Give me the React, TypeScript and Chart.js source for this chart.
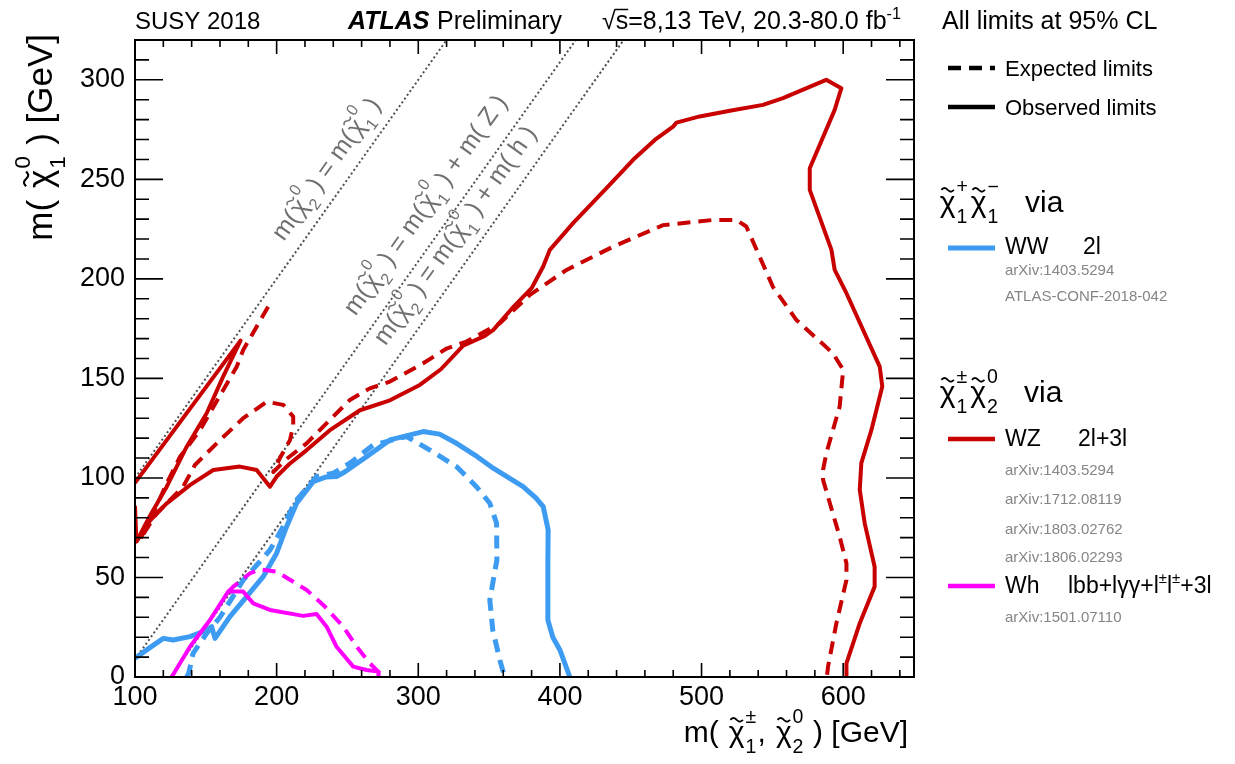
import React, { useEffect, useRef } from 'react';
import { Chart, registerables } from 'chart.js';

Chart.register(...registerables);

const FONT = '"Liberation Sans", Arial, Helvetica, sans-serif';
const RED = '#c80000';
const BLUE = '#3d9cf2';
const MAGENTA = '#ff00ff';
const DOT_GRAY = '#505050';
const LABEL_GRAY = '#707070';
const REF_GRAY = '#858585';

// axis ranges and tick labels
const X_MIN = 100;
const X_MAX = 650;
const Y_MIN = 0;
const Y_MAX = 320;
const xTicks = [100, 200, 300, 400, 500, 600];
const yTicks = [0, 50, 100, 150, 200, 250, 300];

// WZ (red) observed limit: compressed wedge and main contour
const wzObsWedge: [number, number][] = [
  [100, 86], [101, 68], [110.6, 81], [122.4, 95.6], [136.5, 115.7], [150.6, 132.5],
  [162.3, 151], [174.5, 169], [100, 97.5],
];
const wzObsMain: [number, number][] = [
  [101, 68], [110.6, 78.5], [122, 87], [139, 96.5], [155.3, 104], [174.1, 105.7], [185.9, 104],
  [195.3, 95.6], [200, 100.7], [209, 107], [221.2, 114], [237.6, 124], [258.8, 134], [280, 139],
  [301.1, 146.7], [316, 154.6], [331.7, 166.5], [347, 171.4], [353, 174.4], [366, 185], [380, 195.3],
  [388.2, 206.2], [392.9, 214.6], [409.3, 228], [432.9, 245.6], [451.7, 259.8], [467, 269.8],
  [479.9, 276.5], [482.3, 278.5], [498.7, 281.6], [520, 284.5], [543.4, 287.4], [557.5, 290.8],
  [588, 300], [598.7, 295.8], [594, 284.9], [576.4, 255.6], [576.4, 244.7], [591.7, 214.6],
  [594, 204.5], [602.3, 192.8], [625.8, 155.9], [627.6, 145.9], [619.9, 124], [612.8, 107.4],
  [611.7, 94], [615.2, 77.2], [622.2, 55.4], [622.2, 45.4], [611.7, 27], [602.3, 6.9], [602.3, 0],
];
// WZ (red) expected limit
const wzExp: [number, number][] = [
  [194, 186], [176.4, 164.3], [171.8, 155.9], [162.3, 144.2], [145.9, 124], [131.8, 110.7],
  [122.4, 97.3], [115.3, 86], [103.5, 69], [115, 82], [134, 95.6], [142.3, 106.5], [160, 119],
  [176.4, 130], [193, 138.3], [204.7, 136.7], [211.7, 130.8], [211.7, 126], [209.4, 119],
  [202.3, 110], [197.6, 103], [207, 109.5], [221.2, 117.4], [232.9, 125.8], [251.7, 139.2],
  [265.8, 145], [280, 148.4], [303.5, 157.6], [320, 165], [334, 168.5], [357.6, 177.7],
  [378.8, 192], [404.7, 204.5], [437.6, 216.2], [472.9, 227], [508, 229.6], [524.6, 229.6],
  [531.6, 226.3], [550.4, 196], [566.9, 179.4], [592.8, 162.6], [600, 154.3], [597.5, 135.8],
  [588.1, 112.4], [585.8, 104], [585.8, 99], [597.5, 70.5], [602.3, 57.1], [602.3, 48.7],
  [595.2, 27], [589.3, 5.2], [588.5, 0],
];
// WW (blue)
const wwObs: [number, number][] = [
  [100, 9.4], [110, 14.5], [120, 19.4], [127, 18.6], [138.8, 20.3], [148.2, 22.8], [154.1, 25.3],
  [156.5, 19.4], [167, 30.3], [178.8, 40.4], [190.5, 50.4], [200, 62.2], [207, 75.5], [214.1, 87.3],
  [225.8, 98.1], [235, 100.5], [242.3, 100.7], [248, 103], [263.5, 110.7], [280, 119.1],
  [303.5, 123.3], [315, 122], [327, 117.4], [340, 111.5], [352.9, 104.9], [374, 95.6], [383, 90],
  [388.2, 85.6], [391.7, 73.9], [391.5, 58.8], [391.5, 28.6], [395, 20], [400, 13.6], [407, 0],
];
const wwExp: [number, number][] = [
  [136.5, 0], [138, 2], [141, 11.9], [150.6, 21.9], [160, 30], [176.4, 48.7], [188.2, 58],
  [195.3, 63.8], [205, 76], [213, 88], [228.2, 100.7], [240, 102.4], [251.7, 107.4],
  [268.2, 116.6], [291.7, 120.8], [308.2, 114], [327, 105.7], [341.1, 95.6], [350.5, 87.3],
  [355.3, 77.2], [355.5, 58.8], [350.5, 38.7], [352.6, 23.6], [357.6, 8.5], [361, 0],
];
// Wh (magenta)
const whObs: [number, number][] = [
  [125.9, 0], [138.8, 15.2], [152.9, 28.6], [165.8, 42.9], [176.4, 42.9], [183.5, 37],
  [195.3, 33.7], [218.8, 30.7], [228.2, 31.7], [235.3, 25.3], [242.3, 15.2], [254.1, 5.2],
  [263.5, 3.5], [271.7, 2.7], [272, 0],
];
const whExp: [number, number][] = [
  [165.8, 42.9], [169.4, 45.4], [181.2, 52.1], [188.2, 54.1], [200, 52.9], [221.2, 43.7],
  [232.9, 36.2], [247, 25.3], [256.5, 15.2], [265.8, 6.9], [272.9, 1.9], [274, 0],
];
// kinematic boundary lines (end points)
const diagEqual: [number, number][] = [[100, 100], [320, 320]];
const diagZ: [number, number][] = [[100, 8.8], [411.2, 320]];
const diagH: [number, number][] = [[125, 0], [445, 320]];

type Tok = string | { chi: true; sub?: string; sup?: string } | { sup: string } | { sqrt: string };

const chi = (sub: string, sup: string): Tok => ({ chi: true, sub, sup });

const diagLabels: { at: [number, number]; toks: Tok[] }[] = [
  { at: [205, 218.5], toks: ['m(', chi('2', '0'), ' ) = m(', chi('1', '0'), ' )'] },
  { at: [255.6, 181], toks: ['m(', chi('2', '0'), ' ) = m(', chi('1', '0'), ' ) + m( Z )'] },
  { at: [276.9, 166], toks: ['m(', chi('2', '0'), ' ) = m(', chi('1', '0'), ' ) + m( h )'] },
];

function tilde(ctx: CanvasRenderingContext2D, cx: number, cy: number, w: number, h: number, lw: number) {
  ctx.save();
  ctx.lineWidth = lw;
  ctx.setLineDash([]);
  ctx.beginPath();
  for (let i = 0; i <= 20; i++) {
    const t = i / 20;
    const x = cx - w / 2 + t * w;
    const y = cy - (h / 2) * Math.sin(2 * Math.PI * t);
    if (i === 0) ctx.moveTo(x, y);
    else ctx.lineTo(x, y);
  }
  ctx.stroke();
  ctx.restore();
}

function rich(ctx: CanvasRenderingContext2D, toks: Tok[], x: number, y: number, size: number, draw: boolean): number {
  let cx = x;
  const base = `${size}px ${FONT}`;
  const ss = size * 0.65;
  const small = `${ss}px ${FONT}`;
  for (const t of toks) {
    if (typeof t === 'string') {
      ctx.font = base;
      if (draw) ctx.fillText(t, cx, y);
      cx += ctx.measureText(t).width;
    } else if ('chi' in t) {
      ctx.font = base;
      cx += size * 0.06;
      const w = ctx.measureText('χ').width;
      if (draw) {
        ctx.fillText('χ', cx, y);
        ctx.strokeStyle = ctx.fillStyle as string;
        tilde(ctx, cx + w * 0.5, y - size * 0.74, w * 0.8, size * 0.12, Math.max(1, size * 0.06));
      }
      cx += w + size * 0.03;
      ctx.font = small;
      let sw = 0;
      if (t.sup) {
        if (draw) ctx.fillText(t.sup, cx, y - size * 0.62);
        sw = Math.max(sw, ctx.measureText(t.sup).width);
      }
      if (t.sub) {
        if (draw) ctx.fillText(t.sub, cx, y + size * 0.36);
        sw = Math.max(sw, ctx.measureText(t.sub).width);
      }
      cx += sw + size * 0.04;
    } else if ('sqrt' in t) {
      ctx.font = base;
      const rw = ctx.measureText('√').width;
      const tw = ctx.measureText(t.sqrt).width;
      if (draw) {
        ctx.fillText('√', cx, y);
        ctx.fillText(t.sqrt, cx + rw, y);
        ctx.save();
        ctx.strokeStyle = ctx.fillStyle as string;
        ctx.lineWidth = Math.max(1, size * 0.06);
        ctx.beginPath();
        ctx.moveTo(cx + rw - 1, y - size * 0.78);
        ctx.lineTo(cx + rw + tw, y - size * 0.78);
        ctx.stroke();
        ctx.restore();
      }
      cx += rw + tw;
    } else {
      ctx.font = small;
      if (draw) ctx.fillText(t.sup, cx, y - size * 0.42);
      cx += ctx.measureText(t.sup).width;
    }
  }
  return cx - x;
}

const toXY = (arr: [number, number][]) => arr.map(([x, y]) => ({ x, y }));

const decorPlugin = {
  id: 'atlasDecor',
  afterDatasetsDraw(chart: any) {
    const { ctx, chartArea: a, scales } = chart;
    const xs = scales.x;
    const ys = scales.y;
    ctx.save();
    ctx.textAlign = 'left';
    ctx.textBaseline = 'alphabetic';
    // diagonal line labels, parallel to the kinematic lines
    const ang = Math.atan2(
      ys.getPixelForValue(300) - ys.getPixelForValue(100),
      xs.getPixelForValue(300) - xs.getPixelForValue(100)
    );
    ctx.fillStyle = LABEL_GRAY;
    for (const lab of diagLabels) {
      const px = xs.getPixelForValue(lab.at[0]);
      const py = ys.getPixelForValue(lab.at[1]);
      ctx.save();
      ctx.translate(px, py);
      ctx.rotate(ang);
      rich(ctx, lab.toks, 0, 0, 25, true);
      ctx.restore();
    }
    // frame
    ctx.strokeStyle = '#000';
    ctx.setLineDash([]);
    ctx.lineWidth = 2;
    ctx.strokeRect(a.left, a.top, a.right - a.left, a.bottom - a.top);
    // ticks (inside, all four sides)
    ctx.lineWidth = 1.6;
    ctx.beginPath();
    for (let v = X_MIN; v < X_MAX; v += 20) {
      const px = xs.getPixelForValue(v);
      const L = v % 100 === 0 ? 14 : 7;
      ctx.moveTo(px, a.bottom);
      ctx.lineTo(px, a.bottom - L);
      ctx.moveTo(px, a.top);
      ctx.lineTo(px, a.top + L);
    }
    for (let v = Y_MIN; v < Y_MAX; v += 10) {
      const py = ys.getPixelForValue(v);
      const L = v % 50 === 0 ? 28 : 14;
      ctx.moveTo(a.left, py);
      ctx.lineTo(a.left + L, py);
      ctx.moveTo(a.right, py);
      ctx.lineTo(a.right - L, py);
    }
    ctx.stroke();
    ctx.restore();
  },
  afterDraw(chart: any) {
    const { ctx, chartArea: a } = chart;
    ctx.save();
    ctx.textAlign = 'left';
    ctx.textBaseline = 'alphabetic';
    ctx.fillStyle = '#000';
    ctx.strokeStyle = '#000';

    // header
    ctx.font = `24px ${FONT}`;
    ctx.fillText('SUSY 2018', 135, 29);
    ctx.font = `italic bold 25px ${FONT}`;
    ctx.fillText('ATLAS', 348, 29);
    ctx.font = `25px ${FONT}`;
    ctx.fillText('Preliminary', 437, 29);
    rich(ctx, [{ sqrt: 's' }, '=8,13 TeV, 20.3-80.0 fb', { sup: '-1' }], 602, 29, 25, true);
    ctx.font = `25px ${FONT}`;
    ctx.fillText('All limits at 95% CL', 942, 29);

    // axis titles
    const xTitle: Tok[] = ['m( ', chi('1', '±'), ', ', chi('2', '0'), ' ) [GeV]'];
    const xw = rich(ctx, xTitle, 0, 0, 30, false);
    rich(ctx, xTitle, a.right - 6 - xw, 742, 30, true);
    const yTitle: Tok[] = ['m( ', chi('1', '0'), ' ) [GeV]'];
    const yw = rich(ctx, yTitle, 0, 0, 35, false);
    ctx.save();
    ctx.translate(52, 34 + yw);
    ctx.rotate(-Math.PI / 2);
    rich(ctx, yTitle, 0, 0, 35, true);
    ctx.restore();

    // legend: line styles
    const legLine = (y: number, color: string, dash: number[], lw: number) => {
      ctx.save();
      ctx.strokeStyle = color;
      ctx.lineWidth = lw;
      ctx.setLineDash(dash);
      ctx.beginPath();
      ctx.moveTo(948, y);
      ctx.lineTo(995, y);
      ctx.stroke();
      ctx.restore();
    };
    legLine(68, '#000', [13, 8], 4.5);
    legLine(107, '#000', [], 4.5);
    ctx.font = `22px ${FONT}`;
    ctx.fillStyle = '#000';
    ctx.fillText('Expected limits', 1005, 76);
    ctx.fillText('Observed limits', 1005, 115);

    // chargino pair section
    rich(ctx, [chi('1', '+'), chi('1', '−'), '   via'], 938, 212, 30, true);
    legLine(248, BLUE, [], 5);
    ctx.font = `23px ${FONT}`;
    ctx.fillText('WW', 1005, 254);
    ctx.fillText('2l', 1083, 254);
    ctx.font = `15px ${FONT}`;
    ctx.fillStyle = REF_GRAY;
    ctx.fillText('arXiv:1403.5294', 1005, 275);
    ctx.fillText('ATLAS-CONF-2018-042', 1005, 301);

    // chargino-neutralino section
    ctx.fillStyle = '#000';
    rich(ctx, [chi('1', '±'), chi('2', '0'), '   via'], 938, 402, 30, true);
    legLine(439, RED, [], 4.5);
    ctx.font = `23px ${FONT}`;
    ctx.fillText('WZ', 1005, 446);
    ctx.fillText('2l+3l', 1078, 446);
    ctx.font = `15px ${FONT}`;
    ctx.fillStyle = REF_GRAY;
    ctx.fillText('arXiv:1403.5294', 1005, 475);
    ctx.fillText('arXiv:1712.08119', 1005, 504);
    ctx.fillText('arXiv:1803.02762', 1005, 534);
    ctx.fillText('arXiv:1806.02293', 1005, 562);
    legLine(586, MAGENTA, [], 4.5);
    ctx.fillStyle = '#000';
    ctx.font = `23px ${FONT}`;
    ctx.fillText('Wh', 1005, 593);
    rich(ctx, ['lbb+lγγ+l', { sup: '±' }, 'l', { sup: '±' }, '+3l'], 1068, 593, 23, true);
    ctx.font = `15px ${FONT}`;
    ctx.fillStyle = REF_GRAY;
    ctx.fillText('arXiv:1501.07110', 1005, 622);
    ctx.restore();
  },
};

export default function App() {
  const ref = useRef<HTMLCanvasElement | null>(null);
  useEffect(() => {
    if (!ref.current) return;
    const line = (data: [number, number][], color: string, width: number, dash: number[] = []) => ({
      data: toXY(data),
      showLine: true,
      borderColor: color,
      backgroundColor: color,
      borderWidth: width,
      borderDash: dash,
      borderCapStyle: 'butt',
      borderJoinStyle: 'round',
      pointRadius: 0,
      pointHoverRadius: 0,
      fill: false,
      tension: 0,
    });
    const chart = new Chart(ref.current, {
      type: 'scatter',
      data: {
        datasets: [
          line(wzObsWedge, RED, 4),
          line(wzObsMain, RED, 4),
          line(wzExp, RED, 4, [13, 8]),
          line(whObs, MAGENTA, 4),
          line(whExp, MAGENTA, 4, [13, 8]),
          line(wwObs, BLUE, 5),
          line(wwExp, BLUE, 5, [13, 8]),
          line(diagEqual, DOT_GRAY, 2, [2, 2.6]),
          line(diagZ, DOT_GRAY, 2, [2, 2.6]),
          line(diagH, DOT_GRAY, 2, [2, 2.6]),
        ] as any,
      },
      options: {
        animation: false,
        responsive: false,
        devicePixelRatio: 1,
        layout: { padding: { left: 0, right: 321, top: 40, bottom: 0 } },
        plugins: { legend: { display: false }, tooltip: { enabled: false } },
        events: [],
        scales: {
          x: {
            type: 'linear',
            min: X_MIN,
            max: X_MAX,
            grid: { display: false, drawTicks: false },
            border: { display: false },
            afterBuildTicks: (s: any) => {
              s.ticks = xTicks.map((v) => ({ value: v }));
            },
            afterFit: (s: any) => {
              s.height = 87;
            },
            ticks: {
              padding: 4,
              maxRotation: 0,
              autoSkip: false,
              color: '#000',
              font: { family: FONT, size: 27 },
              callback: (v: any) => String(v),
            },
          },
          y: {
            type: 'linear',
            min: Y_MIN,
            max: Y_MAX,
            grid: { display: false, drawTicks: false },
            border: { display: false },
            afterBuildTicks: (s: any) => {
              s.ticks = yTicks.map((v) => ({ value: v }));
            },
            afterFit: (s: any) => {
              s.width = 135;
            },
            ticks: {
              padding: 10,
              autoSkip: false,
              color: '#000',
              font: { family: FONT, size: 27 },
              callback: (v: any) => String(v),
            },
          },
        },
      } as any,
      plugins: [decorPlugin as any],
    });
    return () => chart.destroy();
  }, []);
  return (
    <div style={{ position: 'absolute', left: 0, top: 0, width: 1235, height: 764, background: '#fff' }}>
      <canvas ref={ref} width={1235} height={764} style={{ display: 'block' }} />
    </div>
  );
}
